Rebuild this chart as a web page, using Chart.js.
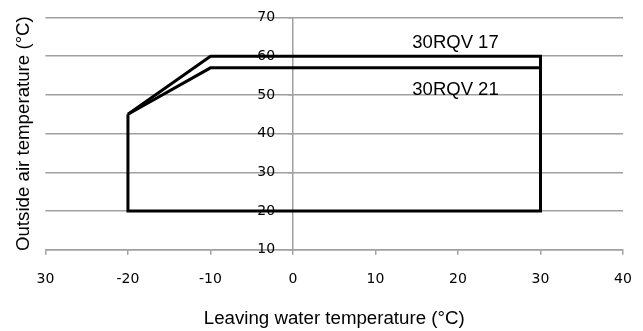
<!DOCTYPE html>
<html>
<head>
<meta charset="utf-8">
<script src="https://cdn.jsdelivr.net/npm/chart.js@4"></script>
<style>
  html, body { margin: 0; padding: 0; background: #fff; }
  #wrap { width: 643px; height: 331px; }
</style>
</head>
<body>
<div id="wrap"><canvas id="chart" width="643" height="331"></canvas></div>
<script>
// operating envelope, 30RQV 17 (closed outline)
const rqv17X = [-20, -10, 30, 30, -20, -20];
const rqv17Y = [45, 60, 60, 20, 20, 45];
// 30RQV 21 upper limit
const rqv21X = [-20, -10, 30];
const rqv21Y = [45, 57, 57];

const xTicks = [-30, -20, -10, 0, 10, 20, 30, 40];
const xTickLabels = ["30", "-20", "-10", "0", "10", "20", "30", "40"];
const yTicks = [10, 20, 30, 40, 50, 60, 70];

// series name labels: [x, y, text]
const seriesLabels = [
  [19.7, 63.4, "30RQV 17"],
  [19.7, 51.4, "30RQV 21"]
];

const toPts = (xs, ys) => xs.map((x, i) => ({ x: x, y: ys[i] }));
const GRID = "#a0a0a0";

const labelPlugin = {
  id: "seriesLabels",
  afterDatasetsDraw(chart) {
    const ctx = chart.ctx;
    const sx = chart.scales.x, sy = chart.scales.y;
    ctx.save();
    ctx.font = "18.5px 'Liberation Sans', Arial, sans-serif";
    ctx.fillStyle = "#000";
    ctx.textAlign = "center";
    ctx.textBaseline = "middle";
    seriesLabels.forEach(([x, y, t]) => {
      ctx.fillText(t, sx.getPixelForValue(x), sy.getPixelForValue(y));
    });
    ctx.restore();
  }
};

new Chart(document.getElementById("chart"), {
  type: "scatter",
  data: {
    datasets: [
      {
        label: "30RQV 17",
        data: toPts(rqv17X, rqv17Y),
        showLine: true,
        borderColor: "#000",
        borderWidth: 3,
        pointRadius: 0,
        fill: false
      },
      {
        label: "30RQV 21",
        data: toPts(rqv21X, rqv21Y),
        showLine: true,
        borderColor: "#000",
        borderWidth: 3,
        pointRadius: 0,
        fill: false
      }
    ]
  },
  options: {
    responsive: false,
    animation: false,
    layout: { padding: { top: 17.5, right: 20, bottom: 0, left: 0 } },
    plugins: {
      legend: { display: false },
      tooltip: { enabled: false }
    },
    scales: {
      x: {
        type: "linear",
        position: "bottom",
        min: -30,
        max: 40,
        afterBuildTicks: (s) => { s.ticks = xTicks.map(v => ({ value: v })); },
        // don't let the tick padding push the right edge in
        afterFit: (s) => { s.paddingRight = 0; },
        ticks: {
          callback: (v) => xTickLabels[xTicks.indexOf(v)],
          font: { family: "'DejaVu Sans'", size: 14 },
          color: "#000",
          padding: 16,
          maxRotation: 0
        },
        grid: { drawOnChartArea: false, color: GRID, lineWidth: 1.5, tickLength: 5 },
        border: { color: GRID, width: 1.5 },
        title: {
          display: true,
          text: "Leaving water temperature (°C)",
          font: { family: "'Liberation Sans', Arial, sans-serif", size: 18.7 },
          color: "#000",
          padding: { top: 4, bottom: 1 }
        }
      },
      y: {
        type: "linear",
        position: { x: 0 },
        min: 10,
        max: 70,
        afterBuildTicks: (s) => { s.ticks = yTicks.map(v => ({ value: v })); },
        ticks: {
          // trailing spaces keep the labels clear of the axis line at x = 0
          callback: (v) => v + "    ",
          font: { family: "'DejaVu Sans'", size: 14 },
          color: "#000"
        },
        grid: { color: GRID, lineWidth: 1.5, tickLength: 4 },
        border: { color: GRID, width: 1.5 }
      },
      yTitle: {
        type: "linear",
        position: "left",
        min: 10,
        max: 70,
        ticks: { display: false },
        grid: { display: false, drawTicks: false },
        border: { display: false },
        title: {
          display: true,
          text: "Outside air temperature (°C)",
          font: { family: "'Liberation Sans', Arial, sans-serif", size: 18.7 },
          color: "#000",
          padding: { top: 13, bottom: 10 }
        }
      }
    }
  },
  plugins: [labelPlugin]
});
</script>
</body>
</html>
